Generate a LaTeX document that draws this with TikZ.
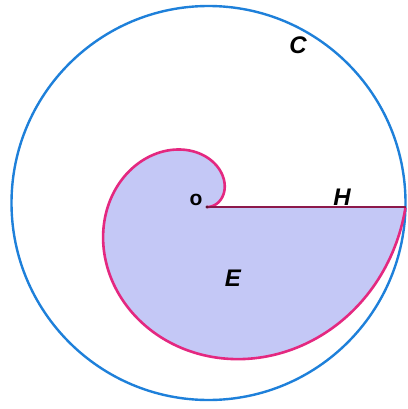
\documentclass[tikz,border=0pt]{standalone}
\usepackage{fontspec}
\setmainfont{Liberation Sans}
\definecolor{circblue}{RGB}{30,128,218}
\definecolor{spiralpink}{RGB}{228,40,128}
\definecolor{regionfill}{RGB}{196,200,246}
\definecolor{hred}{RGB}{140,25,75}
\tikzset{
  circline/.style={draw=circblue, line width=2.4pt},
  spiralline/.style={draw=spiralpink, line width=2.6pt, line join=round},
  regionstyle/.style={fill=regionfill},
  hlinestyle/.style={draw=hred, line width=2pt},
  lab/.style={font=\fontsize{24}{24}\selectfont\bfseries\itshape, inner sep=0pt},
  smalllab/.style={font=\fontsize{21}{21}\selectfont\bfseries, inner sep=0pt}
}
\begin{document}
\begin{tikzpicture}[x=1pt,y=-1pt]
\useasboundingbox (0,0) rectangle (407,409);
\fill[white] (0,0) rectangle (407,409);
\coordinate (O) at (207,207);
\coordinate (P) at ({207+31.6*2*pi},207);
% region E
\fill[regionstyle] plot[domain=0:2*pi, samples=240, variable=\t]
  ({207+31.6*\t*cos(\t r)}, {207-31.6*\t*sin(\t r)}) -- (O) -- cycle;
% circle C
\draw[circline] (208.5,203) circle[radius=197pt];
% spiral boundary
\draw[spiralline] plot[domain=0:2*pi, samples=240, variable=\t]
  ({207+31.6*\t*cos(\t r)}, {207-31.6*\t*sin(\t r)});
% segment H
\draw[hlinestyle] (O) -- (P);
\fill[hred!70!black] (O) circle[radius=1.6pt];
% labels
\node[lab] (labC) at (298,45) {C};
\node[lab] (labH) at (342,197) {H};
\node[lab] (labE) at (233,278) {E};
\node[smalllab, anchor=base] (labO) at (196,205) {o};
\end{tikzpicture}
\end{document}
